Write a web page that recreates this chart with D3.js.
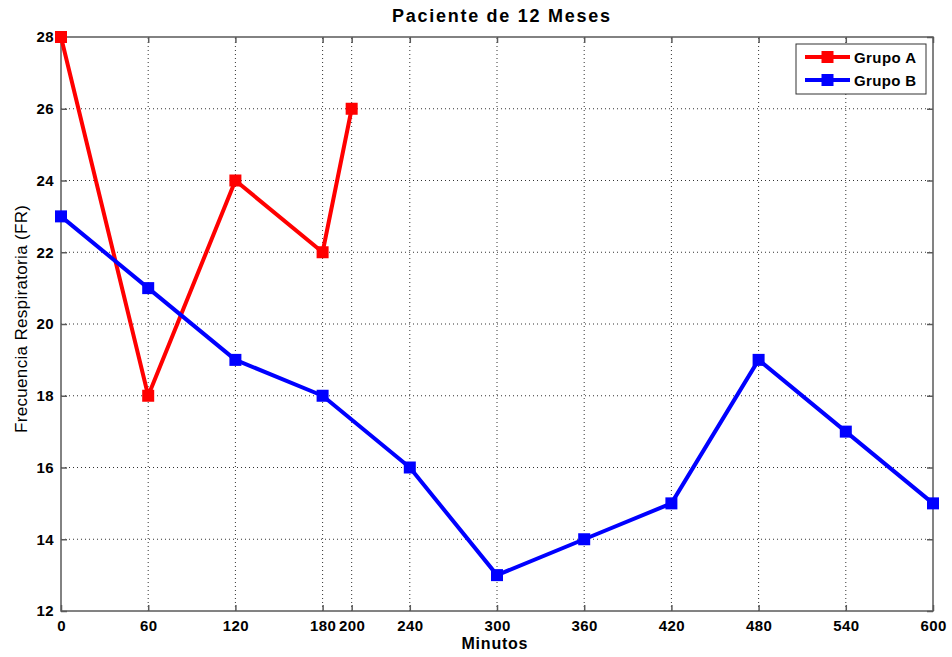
<!DOCTYPE html>
<html>
<head>
<meta charset="utf-8">
<script src="https://cdn.jsdelivr.net/npm/d3@7"></script>
<style>
  html, body { margin: 0; padding: 0; background: #fff; }
  svg { display: block; font-family: Arial, "Liberation Sans", sans-serif; }
</style>
</head>
<body>
<svg id="chart" width="952" height="657"></svg>
<script>
// Respiratory rate over time, two patient groups
const minutesA = [0, 60, 120, 180, 200];
const grupoA   = [28, 18, 24, 22, 26];
const minutesB = [0, 60, 120, 180, 240, 300, 360, 420, 480, 540, 600];
const grupoB   = [23, 21, 19, 18, 16, 13, 14, 15, 19, 17, 15];
const xTicks   = [0, 60, 120, 180, 200, 240, 300, 360, 420, 480, 540, 600];
const yTicks   = [12, 14, 16, 18, 20, 22, 24, 26, 28];
const seriesNames = ["Grupo A", "Grupo B"];
const seriesColors = ["#ff0000", "#0000ff"];

const svg = d3.select("#chart");
const margin = { left: 61, right: 19, top: 37, bottom: 46 };
const W = 952, H = 657;
const x = d3.scaleLinear().domain([0, 600]).range([margin.left, W - margin.right]);
const y = d3.scaleLinear().domain([12, 28]).range([H - margin.bottom, margin.top]);

const axisColor = "#5a5a5a";
const plot = svg.append("g");

// dotted grid
plot.append("g").selectAll("line").data(xTicks.filter(d => d > 0 && d < 600)).join("line")
  .attr("x1", d => x(d)).attr("x2", d => x(d))
  .attr("y1", y(12)).attr("y2", y(28))
  .attr("stroke", "#333").attr("stroke-width", 1).attr("stroke-dasharray", "1,3");
plot.append("g").selectAll("line").data(yTicks.filter(d => d > 12 && d < 28)).join("line")
  .attr("y1", d => y(d)).attr("y2", d => y(d))
  .attr("x1", x(0)).attr("x2", x(600))
  .attr("stroke", "#333").attr("stroke-width", 1).attr("stroke-dasharray", "1,3");

// axes (ticks inside the box)
const tickFont = "bold 15px Arial, 'Liberation Sans', sans-serif";
const xAxis = d3.axisBottom(x).tickValues(xTicks).tickSizeInner(-6).tickSizeOuter(0).tickPadding(9);
const yAxis = d3.axisLeft(y).tickValues(yTicks).tickSizeInner(-6).tickSizeOuter(0).tickPadding(7);
const gx = svg.append("g").attr("transform", `translate(0,${y(12)})`).call(xAxis);
const gy = svg.append("g").attr("transform", `translate(${x(0)},0)`).call(yAxis);
const gxTop = svg.append("g").attr("transform", `translate(0,${y(28)})`)
  .call(d3.axisTop(x).tickValues(xTicks).tickSizeInner(-6).tickSizeOuter(0).tickFormat(""));
const gyRight = svg.append("g").attr("transform", `translate(${x(600)},0)`)
  .call(d3.axisRight(y).tickValues(yTicks).tickSizeInner(-6).tickSizeOuter(0).tickFormat(""));
[gx, gy, gxTop, gyRight].forEach(g => {
  g.selectAll("path, line").attr("stroke", axisColor).attr("stroke-width", 1.5);
  g.selectAll("text").style("font", tickFont).style("letter-spacing", "0.4px").attr("fill", "#000");
});
gx.select(".domain").remove(); gy.select(".domain").remove();
gxTop.select(".domain").remove(); gyRight.select(".domain").remove();
svg.append("rect")
  .attr("x", x(0)).attr("y", y(28)).attr("width", x(600) - x(0)).attr("height", y(12) - y(28))
  .attr("fill", "none").attr("stroke", axisColor).attr("stroke-width", 1.5);
gx.selectAll(".tick text").attr("dy", "0.71em");

// series
const line = d3.line().x(d => x(d[0])).y(d => y(d[1]));
const series = [
  d3.zip(minutesA, grupoA),
  d3.zip(minutesB, grupoB)
];
const mk = 12;
series.forEach((pts, i) => {
  const g = svg.append("g");
  g.append("path").datum(pts).attr("d", line)
    .attr("fill", "none").attr("stroke", seriesColors[i]).attr("stroke-width", 4)
    .attr("stroke-linejoin", "round");
  g.selectAll("rect").data(pts).join("rect")
    .attr("x", d => x(d[0]) - mk / 2).attr("y", d => y(d[1]) - mk / 2)
    .attr("width", mk).attr("height", mk).attr("fill", seriesColors[i]);
});

// title and axis labels
svg.append("text").attr("x", 501).attr("y", 22)
  .attr("text-anchor", "middle").style("font", "bold 18px Arial, 'Liberation Sans', sans-serif")
  .attr("textLength", 218).attr("lengthAdjust", "spacing")
  .text("Paciente de 12 Meses");
svg.append("text").attr("x", 494.5).attr("y", 649)
  .attr("text-anchor", "middle").style("font", "bold 16px Arial, 'Liberation Sans', sans-serif")
  .attr("textLength", 66).attr("lengthAdjust", "spacing")
  .text("Minutos");
svg.append("text").attr("transform", `translate(27,319) rotate(-90)`)
  .attr("text-anchor", "middle").style("font", "17px Arial, 'Liberation Sans', sans-serif")
  .attr("textLength", 228).attr("lengthAdjust", "spacing")
  .text("Frecuencia Respiratoria (FR)");

// legend
const lg = svg.append("g");
lg.append("rect").attr("x", 796).attr("y", 44).attr("width", 130).attr("height", 50)
  .attr("fill", "#fff").attr("stroke", "#333").attr("stroke-width", 1);
seriesNames.forEach((name, i) => {
  const cy = 57 + i * 23;
  lg.append("line").attr("x1", 805).attr("x2", 850).attr("y1", cy).attr("y2", cy)
    .attr("stroke", seriesColors[i]).attr("stroke-width", 4);
  lg.append("rect").attr("x", 827.5 - mk / 2).attr("y", cy - mk / 2).attr("width", mk).attr("height", mk)
    .attr("fill", seriesColors[i]);
  lg.append("text").attr("x", 854).attr("y", cy + 6)
    .style("font", "bold 15px Arial, 'Liberation Sans', sans-serif")
    .attr("textLength", 62).attr("lengthAdjust", "spacing").text(name);
});
</script>
</body>
</html>
